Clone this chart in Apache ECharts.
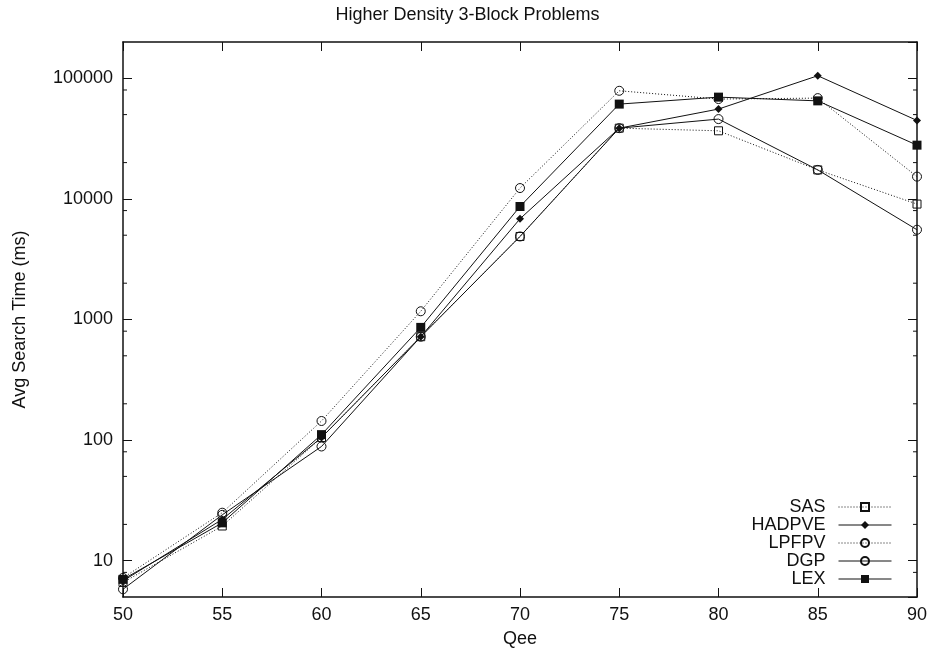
<!DOCTYPE html>
<html>
<head>
<meta charset="utf-8">
<title>Higher Density 3-Block Problems</title>
<script src="https://cdn.jsdelivr.net/npm/echarts@6/dist/echarts.min.js"></script>
<style>
  html, body { margin: 0; padding: 0; background: #fff; }
  #chart { width: 935px; height: 654px; }
</style>
</head>
<body>
<div id="chart"></div>
<script>
// Qee values on the x axis
const qee = [50, 55, 60, 65, 70, 75, 80, 85, 90];

// Average search time (ms) per algorithm
const sas    = [6.6, 19.4, 105, 720, 4880, 38600, 36700, 17400, 9060];
const hadpve = [6.8, 22, 105, 720, 6840, 38600, 55600, 105000, 44700];
const lpfpv  = [7.2, 25, 144, 1170, 12300, 78800, 67300, 68500, 15300];
const dgp    = [5.8, 24, 88.5, 720, 4880, 38600, 45900, 17400, 5550];
const lex    = [7.0, 20.6, 111, 860, 8650, 61100, 69800, 65000, 27900];

// Axis ranges and the minor ticks of the log axis
const xRange = [50, 90];
const yRange = [5, 200000];
const minorTicks = [8, 20, 50, 80, 200, 500, 800, 2000, 5000, 8000,
                    20000, 50000, 80000];

const FONT = '"Liberation Sans", Arial, Helvetica, sans-serif';
const INK = '#111';

function pairs(ys) { return qee.map((x, i) => [x, ys[i]]); }

function lineSeries(name, ys, dotted, symbol, size, filled) {
  return {
    name: name,
    type: 'line',
    data: pairs(ys),
    symbol: symbol,
    symbolSize: size,
    showAllSymbol: true,
    clip: false,
    lineStyle: { color: INK, width: 1, type: dotted ? [1, 2] : 'solid' },
    itemStyle: filled
      ? { color: INK, borderColor: INK, borderWidth: 0 }
      : { color: 'rgba(0,0,0,0)', borderColor: INK, borderWidth: 1 },
    emphasis: { disabled: true },
    z: 3
  };
}

const chart = echarts.init(document.getElementById('chart'), null, { renderer: 'canvas' });

const axisLineStyle = { lineStyle: { color: INK, width: 1.5 } };
const tickStyle = { inside: true, length: 9, lineStyle: { color: INK, width: 1 } };

chart.setOption({
  animation: false,
  backgroundColor: '#fff',
  title: {
    text: 'Higher Density 3-Block Problems',
    left: 'center',
    top: 6,
    padding: [0, 0, 0, 124],
    textStyle: { fontFamily: FONT, fontSize: 18, fontWeight: 'normal', color: INK }
  },
  grid: { left: 123, right: 18, top: 42, bottom: 57, containLabel: false },
  legend: {
    data: ['SAS', 'HADPVE', 'LPFPV', 'DGP', 'LEX'],
    orient: 'vertical',
    align: 'right',
    right: 38,
    bottom: 61,
    itemWidth: 53,
    itemHeight: 10,
    itemGap: 0,
    selectedMode: false,
    lineStyle: { width: 1 },
    textStyle: { fontFamily: FONT, fontSize: 18, color: INK, padding: [0, 8, 0, 0] }
  },
  xAxis: [{
    type: 'value',
    min: xRange[0], max: xRange[1], interval: 5,
    name: 'Qee',
    nameLocation: 'middle',
    nameGap: 33,
    nameTextStyle: { fontFamily: FONT, fontSize: 18, color: INK },
    axisLine: axisLineStyle,
    axisTick: tickStyle,
    splitLine: { show: false },
    axisLabel: { fontFamily: FONT, fontSize: 18, color: INK, margin: 9 }
  }, {
    type: 'value',
    position: 'top',
    min: xRange[0], max: xRange[1], interval: 5,
    axisLine: axisLineStyle,
    axisTick: tickStyle,
    splitLine: { show: false },
    axisLabel: { show: false }
  }],
  yAxis: [{
    type: 'log',
    logBase: 10,
    min: yRange[0], max: yRange[1],
    name: 'Avg Search Time (ms)',
    nameLocation: 'middle',
    nameGap: 94,
    nameTextStyle: { fontFamily: FONT, fontSize: 18, color: INK },
    axisLine: axisLineStyle,
    axisTick: tickStyle,
    splitLine: { show: false },
    axisLabel: {
      fontFamily: FONT, fontSize: 18, color: INK, margin: 10,
      showMinLabel: false, showMaxLabel: false,
      formatter: v => String(Math.round(v))
    }
  }, {
    type: 'log',
    logBase: 10,
    position: 'right',
    min: yRange[0], max: yRange[1],
    axisLine: axisLineStyle,
    axisTick: tickStyle,
    splitLine: { show: false },
    axisLabel: { show: false }
  }],
  series: [
    lineSeries('SAS', sas, true, 'rect', 8, false),
    lineSeries('HADPVE', hadpve, false, 'diamond', 8, true),
    lineSeries('LPFPV', lpfpv, true, 'circle', 9, false),
    lineSeries('DGP', dgp, false, 'circle', 9, false),
    lineSeries('LEX', lex, false, 'rect', 9, true),
    {
      // short minor ticks on both vertical frame edges
      type: 'custom',
      silent: true,
      clip: false,
      z: 1,
      data: minorTicks.map(v => [xRange[0], v]),
      renderItem: function (params, api) {
        const v = api.value(1);
        const pl = api.coord([xRange[0], v]);
        const pr = api.coord([xRange[1], v]);
        const style = { stroke: INK, lineWidth: 1 };
        return {
          type: 'group',
          children: [
            { type: 'line', shape: { x1: pl[0], y1: pl[1], x2: pl[0] + 4, y2: pl[1] }, style: style },
            { type: 'line', shape: { x1: pr[0], y1: pr[1], x2: pr[0] - 4, y2: pr[1] }, style: style }
          ]
        };
      }
    }
  ]
});
</script>
</body>
</html>
